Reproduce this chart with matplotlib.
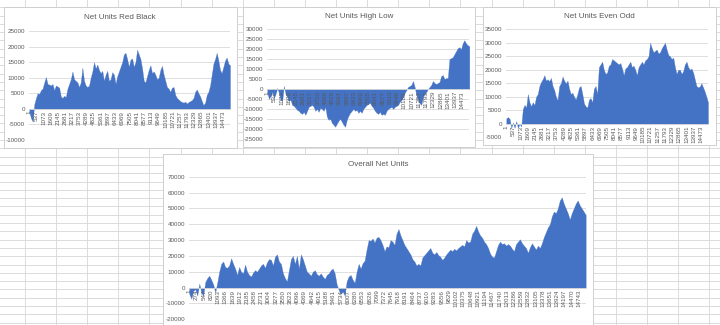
import matplotlib
matplotlib.use("Agg")
import matplotlib.pyplot as plt
from matplotlib.patches import Rectangle
import numpy as np

plt.rcParams['font.family'] = ['Liberation Sans', 'DejaVu Sans']

# ---------------- data ----------------
N_POINTS = 15000

red_black = [-1000, -3000, -4000, 1500, 3500, 5000, 4800, 6000, 6500, 8500, 10200, 8000, 7800, 7500,
             8000, 6000, 7500, 7200, 6800, 4000, 3500, 4200, 3800, 6500, 8000, 9500, 12000, 9500,
             9000, 8500, 7000, 8500, 13200, 9000, 7500, 7000, 7500, 10000, 12000, 15000, 13000, 14200,
             12500, 11500, 12200, 9000, 11000, 12200, 9000, 9500, 11800, 11000, 8000, 10500, 12000,
             13500, 15000, 17500, 18000, 16000, 13500, 15800, 16200, 13500, 15000, 19000, 17500, 16000,
             13000, 9000, 8500, 10500, 12500, 14000, 11500, 12000, 11000, 9500, 10000, 12500, 13800,
             11000, 9000, 7000, 6500, 5500, 6800, 7000, 4500, 3500, 3000, 2500, 2200, 2000, 2300, 1700,
             2200, 2500, 2800, 3500, 5500, 6200, 5000, 4000, 2500, 1200, 2000, 4500, 5500, 7500, 11000,
             14500, 16000, 18000, 15500, 12500, 11500, 13500, 15500, 16500, 14500, 14000]

high_low = [-2000, -5000, -3500, -1500, -4500, -2500, 500, -2000, -5500, -6000, 1500, -2500, -4000,
            -6000, -5500, -8000, -8500, -9500, -10500, -11000, -12000, -12500, -11500, -13000, -11000,
            -9000, -8500, -8000, -9000, -11000, -10000, -11500, -9500, -10000, -11000, -9000, -14000,
            -15500, -15000, -17000, -18000, -19000, -17500, -16000, -15000, -16500, -18000, -19000,
            -15500, -13500, -12000, -11000, -10000, -11000, -10500, -12000, -11000, -12000, -10000,
            -9000, -8000, -7500, -7000, -8500, -9500, -11000, -12000, -12500, -11500, -13000, -12500,
            -13000, -11000, -10000, -9500, -9000, -10000, -9000, -8500, -8000, -6500, -5500, -4000,
            -2000, -500, 1000, 1500, 2000, 4000, 1000, -3000, -5500, -7000, -8000, -4000, -2500, -1500,
            0, 1000, 2000, 4000, 3000, 2500, 3000, 3500, 6500, 7000, 5000, 5500, 5500, 15000, 15500,
            16000, 17500, 19000, 20500, 21000, 20000, 23000, 24500, 23000, 22000, 21500]

even_odd = [2000, 2500, 1800, -1500, 500, -1500, 1000, -1500, 0, -1000, 5500, 7000, 6000, 11000, 8000,
            6500, 8000, 7000, 10000, 11000, 14000, 15500, 16500, 18000, 16000, 16500, 15800, 17000,
            14000, 12500, 10000, 8800, 14000, 15000, 17500, 16000, 15000, 16000, 13000, 11000, 11500,
            10000, 9000, 11000, 13500, 14000, 11000, 7500, 6500, 6000, 9000, 9500, 8000, 13000, 14000,
            11000, 21000, 22000, 23000, 20000, 18500, 19000, 21500, 22000, 24000, 23500, 23000, 22500,
            22000, 22500, 20500, 18000, 20500, 21000, 22000, 23000, 21000, 21500, 20000, 18000, 21000,
            22000, 23000, 22000, 23500, 24000, 25000, 30000, 28000, 26500, 27000, 27500, 26000, 26500,
            28000, 29000, 30000, 27500, 25500, 25000, 24000, 24500, 21000, 18500, 20000, 20000, 18500,
            19500, 22000, 23000, 21000, 20000, 20500, 19000, 16500, 14000, 13500, 13800, 15000, 13500,
            12000, 10000, 8000]

overall = [-4000, -7000, -2000, -1000, -5000, 2500, -3000, -5000, 3500, 6000, 7500, 5000, 2000, -3000,
           3000, 10000, 15000, 16500, 13000, 12500, 14000, 18500, 15000, 12000, 8000, 13000, 10000,
           9000, 14500, 10000, 8000, 7000, 9500, 11000, 10000, 12000, 14000, 15000, 12500, 16000,
           18000, 17500, 14000, 19500, 21000, 16500, 15000, 9000, 6000, 4000, 11000, 18000, 20000,
           15000, 20000, 12000, 21000, 18000, 14000, 10000, 9000, 7500, 10000, 11000, 8500, 7500,
           9000, 7000, 5500, 8000, 9000, 11000, 12000, 9000, 2000, -1500, -4000, -2500, -5000, 4000,
           7000, 8000, 5000, 3000, 10000, 15000, 12000, 15500, 17000, 24000, 30000, 29500, 31000,
           28500, 31500, 32000, 30000, 27000, 23000, 26000, 25500, 30000, 29000, 27000, 34000, 37000,
           33000, 30000, 27000, 25000, 23000, 21000, 18000, 16500, 14000, 15000, 14000, 19000, 20500,
           22000, 23500, 25000, 22000, 21000, 22500, 20500, 19500, 17500, 19000, 21000, 22500, 24000,
           23000, 24500, 23500, 25000, 26000, 27000, 26000, 30000, 28500, 29000, 34000, 36000, 39000,
           35500, 33000, 31500, 29000, 27500, 25000, 21500, 19500, 19000, 23000, 27000, 29000, 27500,
           28000, 26500, 27500, 26500, 24500, 23000, 27500, 29000, 30500, 28000, 26500, 25000, 22000,
           25500, 28000, 26000, 24000, 26500, 25000, 28000, 32000, 35000, 38000, 40000, 45000, 48000,
           47000, 50000, 55000, 57000, 53000, 50000, 47000, 43000, 47000, 50000, 53000, 55000, 52000,
           50000, 48000, 46000]

small_tick_labels = ['1', '537', '1073', '1609', '2145', '2681', '3217', '3753', '4289', '4825',
                     '5361', '5897', '6433', '6969', '7505', '8041', '8577', '9113', '9649', '10185',
                     '10721', '11257', '11793', '12329', '12865', '13401', '13937', '14473']
overall_tick_labels = ['1', '274', '547', '820', '1093', '1366', '1639', '1912', '2185', '2458',
                       '2731', '3004', '3277', '3550', '3823', '4096', '4369', '4642', '4915', '5188',
                       '5461', '5734', '6007', '6280', '6553', '6826', '7099', '7372', '7645', '7918',
                       '8191', '8464', '8737', '9010', '9283', '9556', '9829', '10102', '10375',
                       '10648', '10921', '11194', '11467', '11740', '12013', '12286', '12559',
                       '12832', '13105', '13378', '13651', '13924', '14197', '14470', '14743']

# ---------------- layout ----------------
W, H = 720, 325
fig = plt.figure(figsize=(W / 100, H / 100), dpi=100)
fig.patch.set_facecolor('white')

bg = fig.add_axes([0, 0, 1, 1])
bg.set_xlim(0, W)
bg.set_ylim(H, 0)
bg.axis('off')
for gx in np.arange(25, W, 31.1):
    bg.plot([gx, gx], [0, H], color='#d6d6d6', lw=0.6, zorder=1)
for gy in np.arange(7.2, H, 8.3):
    bg.plot([0, W], [gy, gy], color='#d6d6d6', lw=0.6, zorder=1)

AREA = '#4472C4'
TXT = '#595959'
GRID = '#d9d9d9'


def px_axes(l, t, r, b):
    return fig.add_axes([l / W, 1 - b / H, (r - l) / W, (b - t) / H])


def chart(box, title, title_xy, plot, ylim, ystep, values, tick_labels):
    bl, bt, br, bb = box
    bg.add_patch(Rectangle((bl, bt), br - bl, bb - bt, facecolor='white',
                           edgecolor='#cfcfcf', lw=0.7, zorder=3))
    bg.text(title_xy[0], title_xy[1], title, ha='center', va='center',
            fontsize=5.8, color=TXT, zorder=4)
    ax = px_axes(*plot)
    ax.set_facecolor('none')
    ymin, ymax = ylim
    yt = list(range(ymin, ymax + 1, ystep))
    for v in yt:
        ax.axhline(v, color=GRID, lw=0.6, zorder=0)
    x = np.linspace(1, N_POINTS, len(values))
    ax.fill_between(x, values, 0, color=AREA, lw=0.2, edgecolor=AREA, zorder=1)
    ax.set_xlim(0.5, N_POINTS + 0.5)
    ax.set_ylim(ymin, ymax)
    for s in ['top', 'left', 'right']:
        ax.spines[s].set_visible(False)
    ax.spines['bottom'].set_position(('data', 0))
    ax.spines['bottom'].set_color(GRID)
    ax.spines['bottom'].set_linewidth(0.6)
    ax.set_yticks(yt)
    ax.set_yticklabels([str(v) for v in yt], fontsize=4.5, color=TXT)
    xt = [int(s) for s in tick_labels]
    ax.set_xticks(xt)
    ax.set_xticklabels(tick_labels, rotation=90, fontsize=4.5, color=TXT)
    ax.tick_params(axis='y', length=0, pad=3.1)
    ax.tick_params(axis='x', length=0, pad=1.5)
    return ax


chart((3.5, 7, 236.7, 148), 'Net Units Red Black', (120, 17.3),
      (29.3, 31, 230, 140), (-10000, 25000), 5000, red_black, small_tick_labels)
chart((243.3, 7, 475.3, 146.7), 'Net Units High Low', (359.3, 16.7),
      (267.3, 29.3, 469.3, 138.7), (-25000, 30000), 5000, high_low, small_tick_labels)
chart((483.3, 7, 716, 145), 'Net Units Even Odd', (599.7, 16.7),
      (506.3, 29.3, 708, 137.3), (-5000, 35000), 5000, even_odd, small_tick_labels)
chart((163, 154, 593, 330), 'Overall Net Units', (378, 164.5),
      (189.3, 176.7, 585.7, 319.3), (-20000, 70000), 10000, overall, overall_tick_labels)

fig.savefig('out.png', dpi=100, facecolor='white')
